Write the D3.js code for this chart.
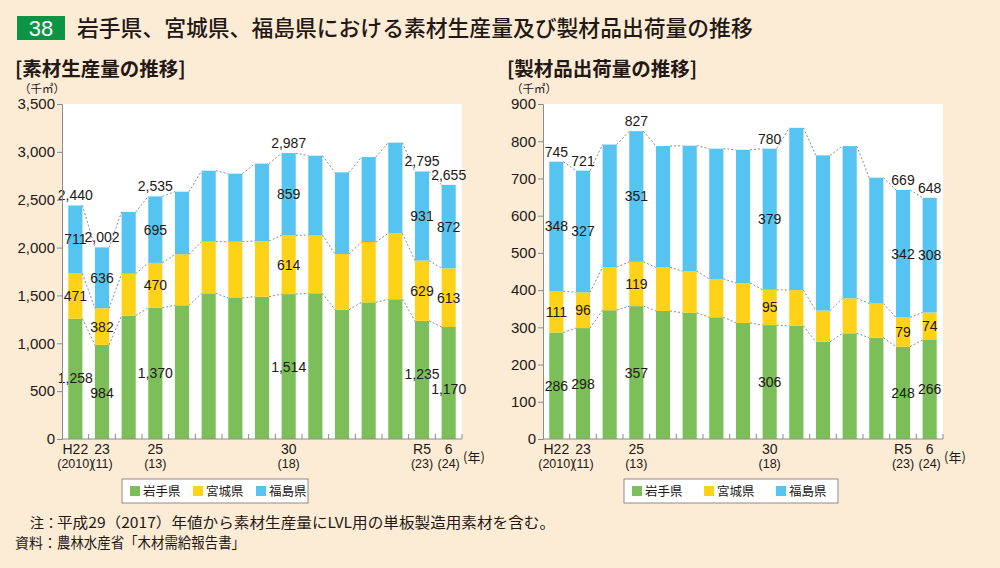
<!DOCTYPE html>
<html>
<head>
<meta charset="utf-8">
<script src="https://cdn.jsdelivr.net/npm/d3@7"></script>
<style>
    body { margin: 0; background: #fdecd5; }
    svg text { font-family: "Noto Sans CJK JP", sans-serif; fill: #231815; }
    svg text.num { font-family: "Liberation Sans Narrow", "Liberation Sans", Arial, sans-serif; }
    svg text.tick { font-family: "Liberation Sans", Arial, sans-serif; }
</style>
</head>
<body>
<div id="chart"></div>
<script>
// Years H22 (2010) .. R6 (2024)
const years = ["H22", "23", "24", "25", "26", "27", "28", "29", "30", "R1", "2", "3", "4", "R5", "6"];
const tickLine1 = ["H22", "23", "", "25", "", "", "", "", "30", "", "", "", "", "R5", "6"];
const tickLine2 = ["(2010)", "(11)", "", "(13)", "", "", "", "", "(18)", "", "", "", "", "(23)", "(24)"];
const prefNames = ["岩手県", "宮城県", "福島県"];
const prefColors = ["#7cbf5a", "#fdd219", "#56c4f0"];
const labelled = [0, 1, 3, 8, 13, 14];

// 素材生産量 (千㎥)
const logIwate = [1258, 984, 1290, 1370, 1397, 1522, 1473, 1487, 1514, 1522, 1351, 1428, 1460, 1235, 1170];
const logMiyagi = [471, 382, 437, 470, 533, 540, 589, 582, 614, 609, 582, 630, 689, 629, 613];
const logFukushima = [711, 636, 645, 695, 654, 741, 710, 808, 859, 829, 853, 888, 947, 931, 872];
const logTicks = [0, 500, 1000, 1500, 2000, 2500, 3000, 3500];

// 製材品出荷量 (千㎥)
const lumberIwate = [286, 298, 346, 357, 344, 339, 327, 312, 306, 304, 261, 284, 272, 248, 266];
const lumberMiyagi = [111, 96, 116, 119, 117, 112, 103, 107, 95, 96, 84, 94, 92, 79, 74];
const lumberFukushima = [348, 327, 329, 351, 326, 337, 350, 358, 379, 436, 417, 409, 338, 342, 308];
const lumberTicks = [0, 100, 200, 300, 400, 500, 600, 700, 800, 900];

const width = 1000, height = 568;
const fmt = d3.format(",");

const svg = d3.select("#chart")
    .append("svg")
    .attr("width", width)
    .attr("height", height);

svg.append("rect").attr("width", width).attr("height", height).attr("fill", "#fdecd5");

// Title
svg.append("rect")
    .attr("x", 17).attr("y", 16)
    .attr("width", 48).attr("height", 24)
    .attr("fill", "#0b9444");
svg.append("text")
    .attr("x", 41).attr("y", 36)
    .attr("text-anchor", "middle")
    .style("fill", "#fff")
    .style("font-family", "'Liberation Sans', Arial, sans-serif")
    .style("font-size", "22px")
    .text("38");
svg.append("text")
    .attr("x", 77).attr("y", 36)
    .style("font-size", "21.8px")
    .style("font-weight", 500)
    .text("岩手県、宮城県、福島県における素材生産量及び製材品出荷量の推移");

function drawPanel(p) {
    const rows = years.map((y, i) => ({ year: y, a: p.values[0][i], b: p.values[1][i], c: p.values[2][i] }));
    const layers = d3.stack().keys(["a", "b", "c"])(rows);

    const x = d3.scaleBand()
        .domain(years)
        .range([p.left, p.right])
        .paddingInner(0.47)
        .paddingOuter(0.235);
    const y = d3.scaleLinear()
        .domain([0, p.max])
        .range([p.bottom, p.top]);
    const bw = x.bandwidth();

    // Subtitle + unit
    svg.append("text")
        .attr("x", p.titleX).attr("y", 76)
        .style("font-size", "19.5px")
        .style("font-weight", 700)
        .text(p.title);
    svg.append("text")
        .attr("x", p.titleX + 4).attr("y", 93)
        .style("font-size", "11.5px")
        .text("（千㎥）");

    // Plot area
    svg.append("rect")
        .attr("x", p.left).attr("y", p.top)
        .attr("width", p.right - p.left)
        .attr("height", p.bottom - p.top)
        .attr("fill", "#fff");

    const g = svg.append("g");

    // Bars
    g.selectAll("g.layer")
        .data(layers)
        .enter()
        .append("g")
        .attr("fill", (d, i) => prefColors[i])
        .selectAll("rect")
        .data(d => d)
        .enter()
        .append("rect")
        .attr("x", d => x(d.data.year))
        .attr("y", d => y(d[1]))
        .attr("width", bw)
        .attr("height", d => y(d[0]) - y(d[1]));

    // Dotted connectors between bar tops
    layers.forEach(layer => {
        for (let i = 0; i < layer.length - 1; i++) {
            g.append("line")
                .attr("x1", x(years[i]) + bw)
                .attr("y1", y(layer[i][1]))
                .attr("x2", x(years[i + 1]))
                .attr("y2", y(layer[i + 1][1]))
                .attr("stroke", "#8c8c8c")
                .attr("stroke-width", 1)
                .attr("stroke-dasharray", "2,2");
        }
    });

    // Y axis
    const yAxis = svg.append("g")
        .attr("transform", `translate(${p.left},0)`)
        .call(d3.axisLeft(y).tickValues(p.ticks).tickFormat(fmt).tickSize(5).tickPadding(2));
    yAxis.select(".domain").attr("stroke", "#8c8c8c");
    yAxis.selectAll(".tick line").attr("stroke", "#8c8c8c");
    yAxis.selectAll("text")
        .attr("class", "tick")
        .style("font-size", "15px")
        .style("fill", "#231815");

    // X axis line with inner ticks at band boundaries
    svg.append("line")
        .attr("x1", p.left).attr("x2", p.right)
        .attr("y1", p.bottom).attr("y2", p.bottom)
        .attr("stroke", "#8c8c8c");
    years.forEach(yr => {
        const bx = x(yr) + bw / 2 + x.step() / 2;
        svg.append("line")
            .attr("x1", bx).attr("x2", bx)
            .attr("y1", p.bottom).attr("y2", p.bottom - 5)
            .attr("stroke", "#8c8c8c");
    });

    // X tick labels
    years.forEach((yr, i) => {
        const cx = x(yr) + bw / 2;
        if (tickLine1[i]) {
            svg.append("text")
                .attr("class", "tick")
                .attr("x", cx).attr("y", 454)
                .attr("text-anchor", "middle")
                .style("font-size", "14px")
                .text(tickLine1[i]);
        }
        if (tickLine2[i]) {
            svg.append("text")
                .attr("class", "num")
                .attr("x", cx).attr("y", 468)
                .attr("text-anchor", "middle")
                .style("font-size", "12.5px")
                .text(tickLine2[i]);
        }
    });
    svg.append("text")
        .attr("x", p.right + 1).attr("y", 462)
        .style("font-size", "13px")
        .text("(年)");

    // Value labels: segment middles, pushed apart when neighbours collide
    const lab = [];
    labelled.forEach(i => {
        const cx = x(years[i]) + bw / 2;
        layers.forEach((layer, s) => {
            const d = layer[i];
            lab.push({ i, s, x: cx, y: y((d[0] + d[1]) / 2) + 5, t: fmt(d[1] - d[0]) });
        });
        const total = layers[2][i][1];
        lab.push({ i, s: 3, x: cx, y: y(total) - 5, t: fmt(total) });
    });
    [0, 1, 2].forEach(s => {
        labelled.forEach(i => {
            const a = lab.find(l => l.i === i && l.s === s);
            const b = lab.find(l => l.i === i + 1 && l.s === s);
            if (a && b && a.t.length + b.t.length > 6 && Math.abs(a.y - b.y) < 15) {
                const mid = (a.y + b.y) / 2;
                const up = a.y <= b.y ? a : b, dn = up === a ? b : a;
                up.y = mid - 7.5;
                dn.y = mid + 7.5;
            }
        });
    });
    g.selectAll("text.val")
        .data(lab)
        .enter()
        .append("text")
        .attr("class", "num")
        .attr("x", d => d.x)
        .attr("y", d => d.y)
        .attr("text-anchor", "middle")
        .style("font-size", "14px")
        .text(d => d.t);

    // Legend
    const lg = svg.append("g").attr("transform", `translate(${p.legendX},479)`);
    lg.append("rect")
        .attr("width", p.legendW).attr("height", 24)
        .attr("fill", "#fff")
        .attr("stroke", "#8c8c8c");
    prefNames.forEach((name, i) => {
        const ox = 8 + i * p.legendStep;
        lg.append("rect")
            .attr("x", ox).attr("y", 7)
            .attr("width", 10).attr("height", 10)
            .attr("fill", prefColors[i]);
        lg.append("text")
            .attr("x", ox + 13).attr("y", 17)
            .style("font-size", "12.5px")
            .text(name);
    });
}

drawPanel({
    title: "[素材生産量の推移]",
    titleX: 15,
    left: 62, right: 462, top: 104, bottom: 439,
    max: 3500, ticks: logTicks,
    values: [logIwate, logMiyagi, logFukushima],
    legendX: 122, legendW: 186, legendStep: 63
});

drawPanel({
    title: "[製材品出荷量の推移]",
    titleX: 507,
    left: 543, right: 943, top: 104, bottom: 439,
    max: 900, ticks: lumberTicks,
    values: [lumberIwate, lumberMiyagi, lumberFukushima],
    legendX: 624, legendW: 214, legendStep: 72
});

// Notes
const notes = [["注：", "平成29（2017）年値から素材生産量にLVL用の単板製造用素材を含む。", 30, 528, 498],
               ["資料：", "農林水産省「木材需給報告書」", 15, 548, 188]];
notes.forEach(n => {
    svg.append("text").attr("x", n[2]).attr("y", n[3]).style("font-size", "14px").text(n[0]);
    svg.append("text")
        .attr("x", 57).attr("y", n[3])
        .attr("textLength", n[4])
        .attr("lengthAdjust", "spacingAndGlyphs")
        .style("font-size", "14.5px")
        .text(n[1]);
});
</script>
</body>
</html>
